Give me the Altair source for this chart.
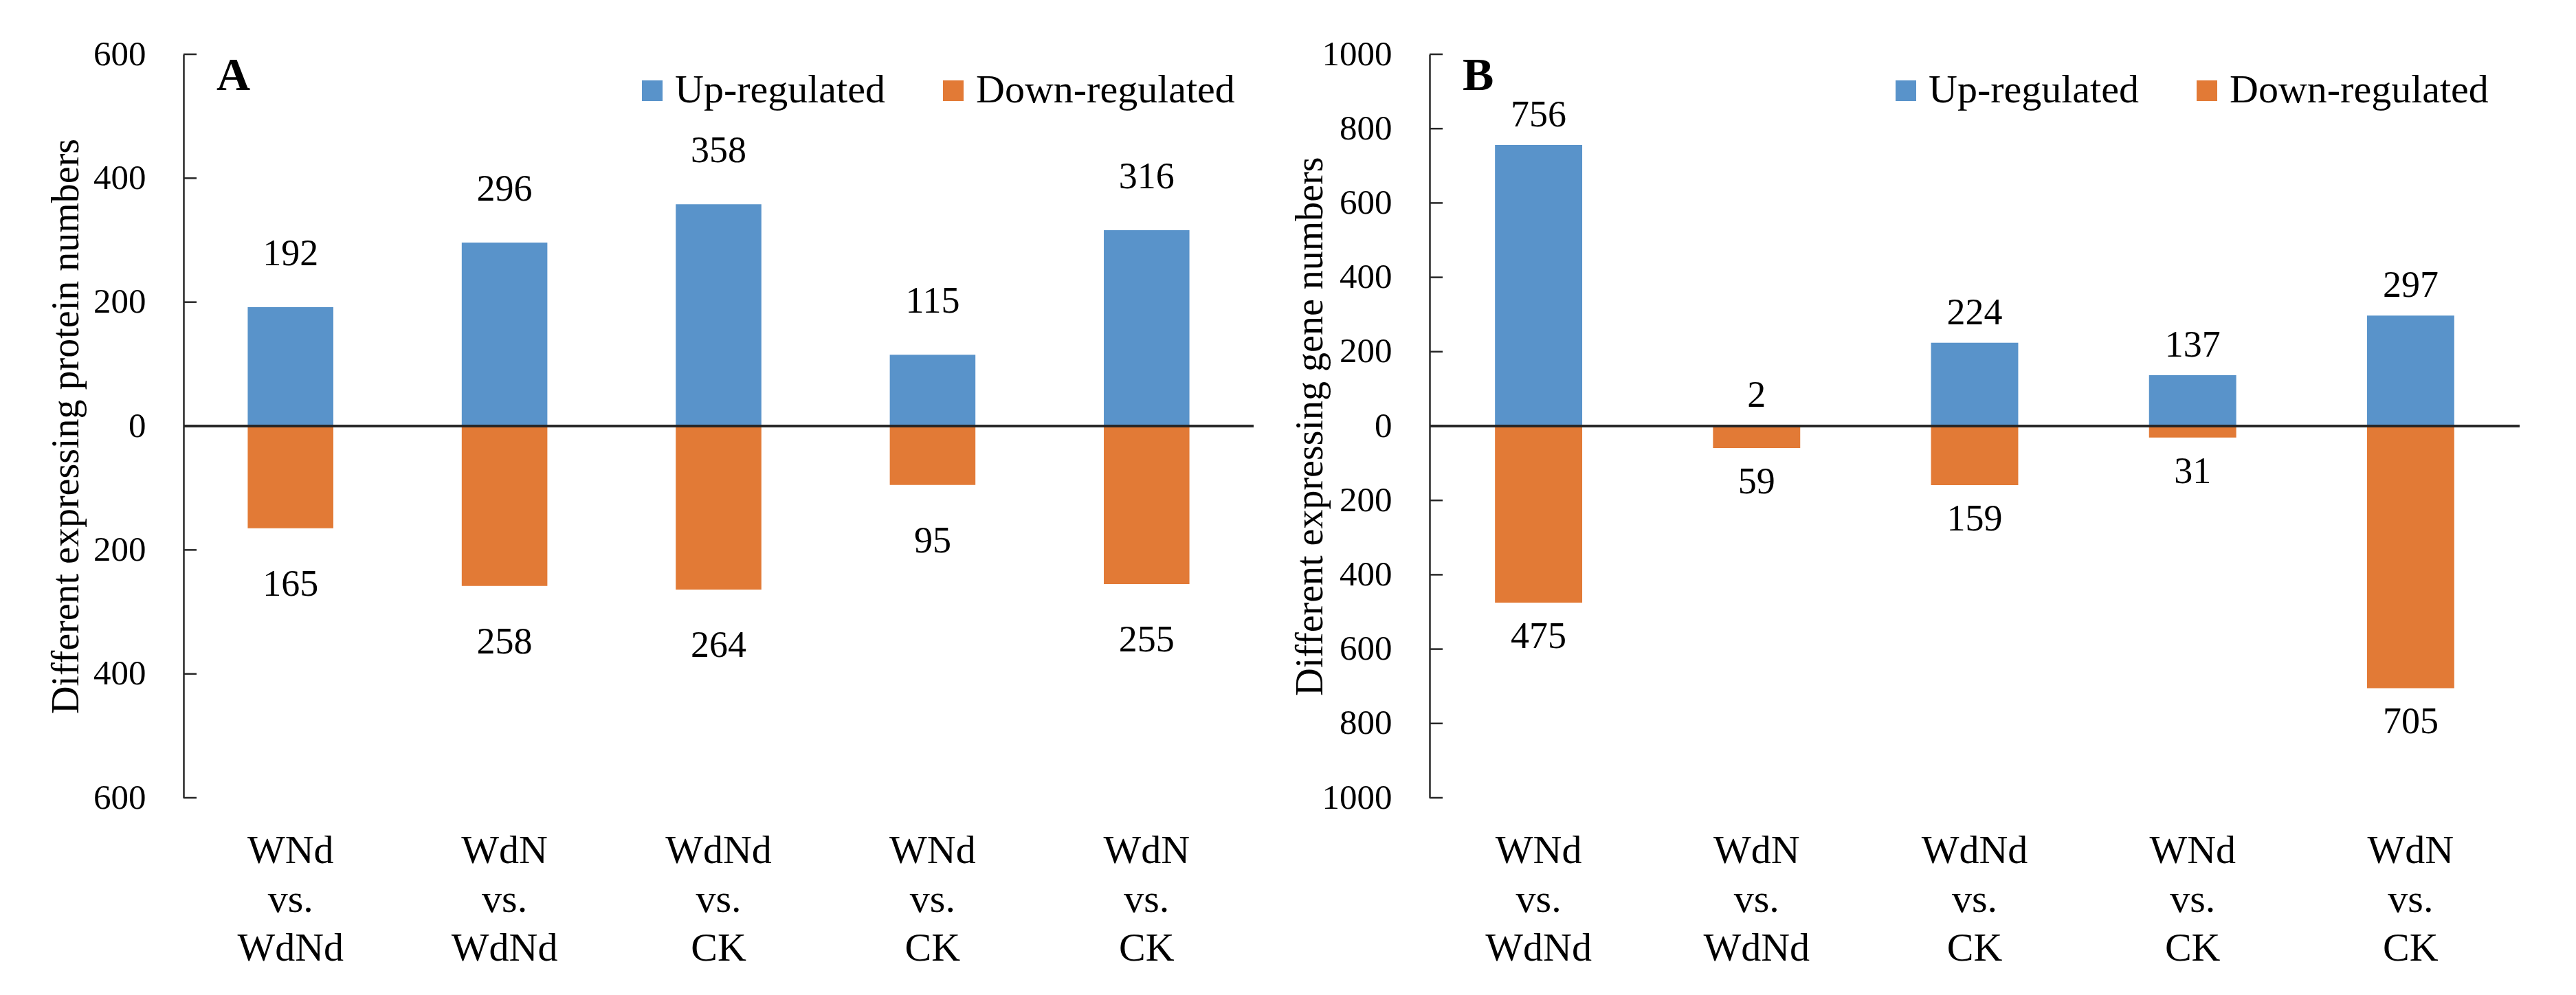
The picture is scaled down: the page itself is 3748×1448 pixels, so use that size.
import altair as alt
import pandas as pd

# ---- data ----
categories = ["WNd|vs.|WdNd", "WdN|vs.|WdNd", "WdNd|vs.|CK", "WNd|vs.|CK", "WdN|vs.|CK"]
series_names = ["Up-regulated", "Down-regulated"]
colors = ["#5993CA", "#E27A36"]

a_up = [192, 296, 358, 115, 316]
a_down = [165, 258, 264, 95, 255]
b_up = [756, 2, 224, 137, 297]
b_down = [475, 59, 159, 31, 705]

a_ticks = [-600, -400, -200, 0, 200, 400, 600]
b_ticks = [-1000, -800, -600, -400, -200, 0, 200, 400, 600, 800, 1000]

FONT = "Liberation Serif"
AXIS_COLOR = "#262626"


def make_df(up, down):
    rows = []
    for c, u, d in zip(categories, up, down):
        rows.append({"cat": c, "series": "Up-regulated", "value": u, "label": u})
        rows.append({"cat": c, "series": "Down-regulated", "value": -d, "label": d})
    return pd.DataFrame(rows)


def panel(up, down, ticks, ymax, ytitle, letter, width, height,
          up_off, down_off, legend_x, legend_y, title_pad):
    df = make_df(up, down)
    tick_df = pd.DataFrame({"value": ticks})

    x_enc = alt.X(
        "cat:N", sort=categories,
        scale=alt.Scale(paddingInner=0.6, paddingOuter=0.3),
        axis=alt.Axis(title=None, domain=False, ticks=False, labelAngle=0,
                      labelExpr="split(datum.label, '|')",
                      labelFont=FONT, labelFontSize=58, labelColor="black",
                      labelLineHeight=71, labelBaseline="top", labelPadding=48),
    )
    y_enc = alt.Y(
        "value:Q",
        scale=alt.Scale(domain=[-ymax, ymax], nice=False, zero=True),
        axis=alt.Axis(values=ticks, labelExpr="abs(datum.value)", grid=False,
                      ticks=False, domain=True, domainColor=AXIS_COLOR,
                      domainWidth=2.5, labelFont=FONT, labelFontSize=51,
                      labelColor="black", labelPadding=55,
                      title=ytitle, titleFont=FONT, titleFontSize=56,
                      titleFontWeight="normal", titleColor="black",
                      titlePadding=title_pad),
    )

    base = alt.Chart(df)
    bars = base.mark_bar().encode(
        x=x_enc, y=y_enc,
        color=alt.Color(
            "series:N",
            scale=alt.Scale(domain=series_names, range=colors),
            legend=alt.Legend(orient="none", legendX=legend_x, legendY=legend_y,
                              direction="horizontal", title=None,
                              symbolType="square", symbolSize=900,
                              symbolStrokeWidth=0, symbolOpacity=1,
                              labelFont=FONT, labelFontSize=58, labelLimit=1000,
                              labelColor="black", labelOffset=4,
                              columnPadding=70, padding=0),
        ),
    )
    up_text = base.transform_filter(alt.datum.series == "Up-regulated").mark_text(
        font=FONT, fontSize=54, color="black", baseline="middle", dy=-up_off
    ).encode(x=x_enc, y=y_enc, text="label:Q")
    down_text = base.transform_filter(alt.datum.series == "Down-regulated").mark_text(
        font=FONT, fontSize=54, color="black", baseline="middle", dy=down_off
    ).encode(x=x_enc, y=y_enc, text="label:Q")

    zero = base.mark_rule(color=AXIS_COLOR, strokeWidth=2.5).encode(y=alt.datum(0))
    tick_marks = alt.Chart(tick_df).mark_rule(color=AXIS_COLOR, strokeWidth=2.5).encode(
        y=y_enc, x=alt.value(0), x2=alt.value(19)
    )
    letter_mark = alt.Chart(pd.DataFrame({"t": [letter]})).mark_text(
        font=FONT, fontSize=68, fontWeight="bold", color="black",
        align="left", baseline="alphabetic"
    ).encode(text="t:N", x=alt.value(48), y=alt.value(52))

    return alt.layer(bars, zero, tick_marks, up_text, down_text, letter_mark).properties(
        width=width, height=height
    )


chart_a = panel(a_up, a_down, a_ticks, 600,
                "Different expressing  protein numbers", "A", 1557, 1082,
                77, 82, 653, 24, 10)
chart_b = panel(b_up, b_down, b_ticks, 1000,
                "Different expressing  gene numbers", "B", 1586, 1082,
                43, 50, 664, 24, -12)

chart = alt.hconcat(chart_a, chart_b, spacing=52).resolve_scale(
    color="independent", y="independent", x="independent"
).properties(
    padding={"left": 60, "top": 45, "right": 10, "bottom": 10},
    background="white",
).configure_view(stroke=None).configure_axis(
    labelFont=FONT, titleFont=FONT
).configure_legend(labelFont=FONT).configure_text(font=FONT)

chart.save("out.html", embed_options={"renderer": "svg", "actions": False})
